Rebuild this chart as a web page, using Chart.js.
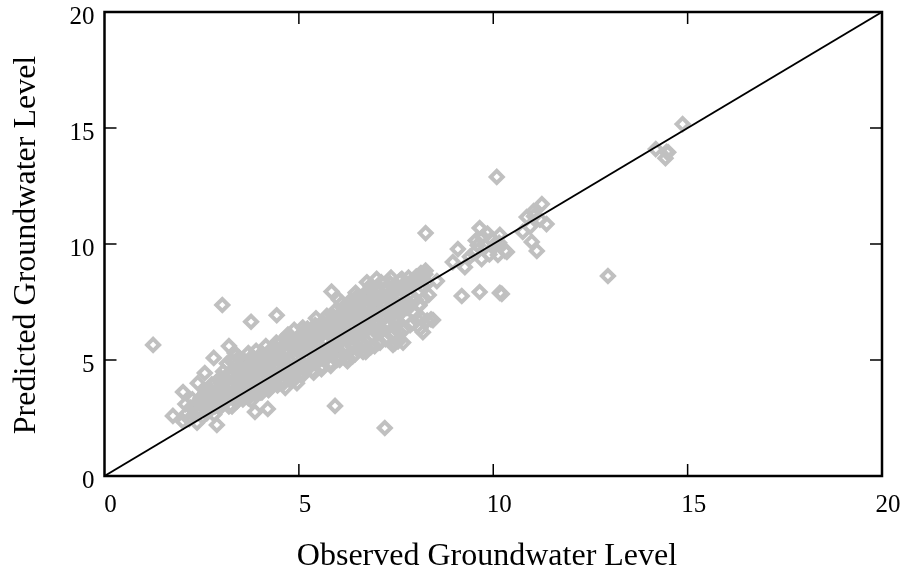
<!DOCTYPE html>
<html>
<head>
<meta charset="utf-8">
<title>Observed vs Predicted Groundwater Level</title>
<script src="https://cdn.jsdelivr.net/npm/chart.js@4"></script>
<style>
  html, body { margin: 0; padding: 0; background: #fff; }
  canvas { display: block; }
</style>
</head>
<body>
<canvas id="scatterChart" width="903" height="569"></canvas>
<script>
// Values, one group per stretch of the cloud
const observed = [
  // isolated points
  1.25, 1.76, 2.02, 3.03, 3.77, 4.43, 7.21, 5.93, 12.95, 10.09, 14.87, 14.18, 14.46, 14.43, 14.5, 8.26,
  9.19, 9.65, 10.17, 10.22, 11.25, 11.04, 10.86, 11.37, 10.99, 11.12, 10.76, 11.05, 10.95, 11.2,
  2.89, 2.81, 3.2, 3.35, 3.87, 4.2, 2.58, 2.4, 7.47, 8.19, 8.45, 8.16, 7.55, 7.42,
  // 2 - 3
  2.02, 2.08, 2.12, 2.18, 2.22, 2.26, 2.31, 2.35, 2.38, 2.44, 2.47, 2.52, 2.55, 2.58, 2.63, 2.66,
  2.7, 2.73, 2.78, 2.82, 2.86, 2.89, 2.93, 2.97, 2.99, 2.91, 2.84, 2.76, 2.68, 2.6, 2.49, 2.37,
  // 3 - 4
  3.02, 3.05, 3.08, 3.12, 3.15, 3.18, 3.21, 3.24, 3.28, 3.3, 3.34, 3.37, 3.4, 3.43, 3.46, 3.5,
  3.53, 3.56, 3.6, 3.63, 3.66, 3.7, 3.73, 3.77, 3.8, 3.83, 3.87, 3.9, 3.93, 3.97, 3.99, 3.04,
  3.14, 3.26, 3.38, 3.48, 3.58, 3.68, 3.78, 3.88, 3.95, 3.45, 3.65, 3.22, 3.85, 3.75, 3.55, 3.1,
  // 4 - 5
  4.01, 4.05, 4.08, 4.11, 4.15, 4.18, 4.22, 4.25, 4.28, 4.32, 4.35, 4.38, 4.42, 4.45, 4.48, 4.52,
  4.55, 4.58, 4.62, 4.65, 4.68, 4.72, 4.75, 4.78, 4.82, 4.85, 4.88, 4.92, 4.95, 4.98, 4.06, 4.16,
  4.26, 4.36, 4.46, 4.56, 4.66, 4.76, 4.86, 4.96, 4.12, 4.3, 4.5, 4.7, 4.9, 4.2, 4.4, 4.6, 4.8,
  // 5 - 6
  5.01, 5.04, 5.08, 5.11, 5.15, 5.18, 5.22, 5.25, 5.28, 5.32, 5.35, 5.38, 5.42, 5.45, 5.48, 5.52,
  5.55, 5.58, 5.62, 5.65, 5.68, 5.72, 5.75, 5.78, 5.82, 5.85, 5.88, 5.92, 5.95, 5.98, 5.06, 5.16,
  5.26, 5.36, 5.46, 5.56, 5.66, 5.76, 5.86, 5.96, 5.1, 5.3, 5.5, 5.7, 5.9, 5.2, 5.4, 5.6, 5.8, 5.93,
  5.03, 5.24, 5.44, 5.64, 5.84,
  // 6 - 7
  6.01, 6.04, 6.08, 6.11, 6.15, 6.18, 6.22, 6.25, 6.28, 6.32, 6.35, 6.38, 6.42, 6.45, 6.48, 6.52,
  6.55, 6.58, 6.62, 6.65, 6.68, 6.72, 6.75, 6.78, 6.82, 6.85, 6.88, 6.92, 6.95, 6.98, 6.06, 6.16,
  6.26, 6.36, 6.46, 6.56, 6.66, 6.76, 6.86, 6.96, 6.1, 6.3, 6.5, 6.7, 6.9, 6.2, 6.4, 6.6, 6.8, 6.94,
  6.03, 6.24, 6.44, 6.64, 6.84,
  // 7 - 8.6
  7.02, 7.05, 7.09, 7.12, 7.16, 7.19, 7.23, 7.26, 7.3, 7.33, 7.37, 7.4, 7.44, 7.47, 7.51, 7.54,
  7.58, 7.61, 7.65, 7.68, 7.72, 7.75, 7.79, 7.82, 7.86, 7.9, 7.94, 7.98, 8.02, 8.06, 8.1, 8.14,
  8.18, 8.22, 8.26, 8.3, 8.34, 8.2, 8.12, 7.08, 7.22, 7.36, 7.5, 7.64, 7.78, 7.92, 7.15, 7.3, 7.45,
  7.6, 7.7, 7.85, 8.04, 6.75, 7.0, 7.1, 7.25, 7.4, 8.1, 8.25, 8.4, 8.55, 8.3,
  // 8.6 - 11
  9.09, 8.96, 9.27, 9.4, 9.55, 9.65, 9.72, 9.8, 9.85, 9.9, 9.95, 10.0, 10.05, 10.12, 10.17, 10.35, 9.6, 9.7, 10.3, 10.15, 9.5,
  // filling the gaps inside the band
  2.4, 2.65, 2.9, 3.1, 3.3, 3.5, 3.7, 3.9, 4.1, 4.3, 4.5, 4.7, 4.9, 5.1, 5.3, 5.5, 5.7, 5.9, 6.1, 6.3, 6.5, 6.7, 6.9, 7.1, 7.3, 7.5, 7.7,
  3.2, 3.4, 3.6, 3.8, 4.0, 4.2, 4.4, 4.6, 4.8, 5.0, 5.2, 5.4, 5.6, 5.8, 6.0, 6.2, 6.4, 6.6, 6.8, 7.0, 7.2, 7.4, 7.6, 7.8, 8.0,
  3.0, 3.25, 3.55, 3.85, 4.15, 4.45, 4.75, 5.05, 5.35, 5.65, 5.95, 6.25, 6.55, 6.85, 7.15, 7.45, 7.75, 8.05,
  2.3, 2.55, 2.8, 3.05, 3.35, 3.6, 3.9, 4.15, 4.4, 4.65, 4.95, 5.2, 5.45, 5.75, 6.0, 6.3, 6.55, 6.8, 7.05, 7.35, 7.6, 7.9, 8.15,
  // lower edge of the band
  4.6, 4.9, 5.1, 5.35, 5.6, 5.8, 6.05, 6.25, 6.45, 6.65, 6.85, 7.05, 7.25, 7.45, 5.0, 5.5, 6.0, 6.5, 7.0, 7.5, 4.3, 4.05, 3.7,
  // upper edge of the band
  5.55, 5.85, 6.15, 6.45, 6.75, 7.05, 7.35, 7.65
];
const predicted = [
  // isolated points
  5.65, 2.59, 3.62, 7.37, 6.65, 6.93, 2.07, 3.02, 8.62, 12.89, 15.17, 14.09, 13.97, 13.7, 13.95, 10.47,
  7.76, 7.93, 7.89, 7.85, 11.72, 11.42, 11.16, 10.86, 10.09, 9.7, 10.52, 11.2, 10.75, 11.05,
  2.2, 5.09, 5.6, 5.3, 2.76, 2.89, 4.44, 4.0, 5.73, 6.2, 6.72, 6.8, 5.8, 5.65,
  // 2 - 3
  2.35, 3.1, 2.7, 2.45, 2.95, 3.3, 2.6, 3.05, 2.3, 2.85, 3.35, 2.55, 3.1, 3.5, 2.7, 3.3,
  3.75, 2.9, 3.45, 2.65, 4.0, 3.2, 3.7, 2.95, 4.25, 3.45, 3.0, 3.95, 2.8, 3.6, 3.4, 2.75,
  // 3 - 4
  3.05, 4.5, 3.7, 3.2, 4.85, 3.95, 3.4, 4.45, 3.0, 4.9, 3.65, 5.2, 4.2, 3.45, 5.1, 3.85,
  4.6, 3.3, 4.95, 4.1, 3.6, 5.3, 4.4, 3.75, 5.15, 4.7, 3.55, 5.4, 4.25, 3.9, 5.0, 3.95,
  3.5, 3.95, 4.1, 4.7, 4.25, 4.75, 3.25, 4.5, 3.8, 4.4, 4.9, 4.3, 5.05, 4.0, 3.6, 4.25,
  // 4 - 5
  3.6, 5.3, 4.5, 3.95, 5.6, 4.85, 3.7, 5.2, 4.3, 5.5, 4.0, 4.75, 5.75, 3.9, 5.1, 4.5,
  5.8, 4.15, 5.35, 3.8, 4.7, 6.1, 5.0, 4.2, 5.65, 4.45, 6.3, 5.2, 4.0, 5.9, 4.2, 4.95,
  5.4, 5.0, 4.3, 4.9, 5.45, 4.7, 5.05, 4.65, 3.95, 4.55, 5.25, 5.95, 5.55, 4.65, 5.05, 5.6, 6.0,
  // 5 - 6
  4.4, 5.7, 4.9, 6.2, 5.15, 4.55, 6.35, 5.5, 4.75, 6.0, 5.25, 4.45, 6.5, 5.7, 4.95, 6.25,
  5.4, 4.6, 6.6, 5.85, 5.05, 6.9, 6.15, 5.35, 4.75, 6.75, 5.55, 7.1, 6.4, 5.0, 5.35, 6.05,
  4.8, 5.6, 6.1, 5.05, 5.85, 6.55, 5.2, 6.0, 6.4, 5.95, 5.25, 6.35, 5.7, 5.85, 5.45, 6.1, 6.5, 5.55,
  6.05, 5.55, 6.8, 5.45, 7.95,
  // 6 - 7
  5.2, 6.9, 6.1, 7.45, 5.5, 6.55, 7.2, 4.95, 5.9, 7.55, 6.35, 5.15, 7.0, 6.0, 7.7, 5.45,
  6.6, 7.4, 5.7, 6.15, 7.75, 5.35, 6.85, 7.3, 5.95, 8.0, 6.4, 7.55, 5.6, 6.95, 6.5, 7.15,
  6.65, 5.75, 7.9, 6.8, 6.25, 5.5, 7.1, 7.65, 5.85, 7.05, 6.2, 7.35, 6.05, 6.6, 5.55, 6.9, 7.85, 6.3,
  7.6, 6.2, 7.05, 6.7, 8.2,
  // 7 - 8.6
  6.15, 7.9, 5.75, 8.35, 6.9, 7.45, 5.9, 8.1, 6.5, 7.6, 8.55, 6.05, 7.2, 8.25, 6.7, 7.8,
  6.2, 8.45, 7.35, 5.75, 8.0, 6.85, 7.5, 8.55, 6.5, 7.7, 8.3, 7.0, 8.6, 7.9, 7.4, 8.75,
  8.2, 7.65, 8.85, 8.3, 7.8, 8.5, 6.35, 7.05, 6.55, 7.7, 6.85, 8.15, 7.25, 6.6, 6.75, 7.1, 7.55,
  7.0, 6.3, 7.35, 6.75, 8.35, 8.5, 6.4, 7.15, 6.95, 7.35, 8.7, 6.75, 8.4, 6.7,
  // 8.6 - 11
  9.78, 9.22, 9.0, 9.45, 10.15, 10.69, 10.3, 9.9, 10.45, 9.55, 10.2, 9.85, 10.0, 9.53, 10.39, 9.66, 9.95, 9.35, 9.7, 10.05, 9.6,
  // filling the gaps inside the band
  2.8, 3.2, 3.4, 3.6, 3.85, 4.1, 4.3, 4.5, 4.7, 4.9, 5.1, 5.3, 5.5, 5.7, 5.9, 6.1, 6.3, 6.5, 6.7, 6.9, 7.1, 7.3, 7.5, 7.65, 7.8, 8.0, 8.2,
  3.0, 3.2, 3.4, 3.6, 3.8, 4.0, 4.2, 4.4, 4.6, 4.8, 5.0, 5.2, 5.4, 5.55, 5.7, 5.9, 6.1, 6.3, 6.5, 6.7, 6.85, 7.0, 7.2, 7.4, 7.6,
  4.0, 4.3, 4.55, 4.85, 5.15, 5.4, 5.7, 5.95, 6.2, 6.5, 6.75, 7.0, 7.25, 7.55, 7.75, 8.05, 8.25, 8.45,
  3.0, 3.35, 3.55, 3.8, 4.15, 4.35, 4.6, 4.9, 5.15, 5.35, 5.6, 5.85, 6.1, 6.35, 6.6, 6.85, 7.1, 7.35, 7.6, 7.9, 8.1, 8.3, 8.5,
  // lower edge of the band
  4.0, 4.2, 4.35, 4.55, 4.75, 4.85, 5.0, 5.1, 5.25, 5.35, 5.55, 5.75, 5.95, 6.15, 4.6, 5.0, 5.45, 5.8, 6.25, 6.6, 3.85, 3.6, 3.35,
  // upper edge of the band
  6.55, 6.95, 7.25, 7.55, 7.95, 8.15, 8.3, 8.5
];
const lineX = [0, 20];
const lineY = [0, 20];
const tickValues = [0, 5, 10, 15, 20];
const xTitle = 'Observed Groundwater Level';
const yTitle = 'Predicted Groundwater Level';

const plotLeft = 104.5, plotRight = 882, plotTop = 12, plotBottom = 476;
const fontFamily = '"Liberation Serif", "Times New Roman", serif';

// inward ticks on all four sides, the frame, and the two axis titles
const frameTicks = {
  id: 'frameTicks',
  afterDatasetsDraw(chart) {
    const { ctx, chartArea: a, scales: { x, y } } = chart;
    ctx.save();
    ctx.strokeStyle = '#000';
    ctx.lineWidth = 2.5;
    ctx.strokeRect(a.left, a.top, a.right - a.left, a.bottom - a.top);
    ctx.lineWidth = 1.5;
    ctx.beginPath();
    tickValues.slice(1, -1).forEach(v => {
      const px = x.getPixelForValue(v), py = y.getPixelForValue(v);
      ctx.moveTo(px, a.bottom); ctx.lineTo(px, a.bottom - 12);
      ctx.moveTo(px, a.top); ctx.lineTo(px, a.top + 12);
      ctx.moveTo(a.left, py); ctx.lineTo(a.left + 12, py);
      ctx.moveTo(a.right, py); ctx.lineTo(a.right - 12, py);
    });
    ctx.moveTo(a.left, a.top); ctx.lineTo(a.left + 12, a.top);
    ctx.stroke();

    ctx.fillStyle = '#000';
    ctx.font = '32px ' + fontFamily;
    ctx.textAlign = 'center';
    ctx.textBaseline = 'alphabetic';
    ctx.fillText(xTitle, 487, 565);
    ctx.translate(35, 245);
    ctx.rotate(-Math.PI / 2);
    ctx.fillText(yTitle, 0, 0);
    ctx.restore();
  }
};

new Chart(document.getElementById('scatterChart'), {
  type: 'scatter',
  data: {
    datasets: [
      {
        label: 'Observed = Predicted',
        data: lineX.map((v, i) => ({ x: v, y: lineY[i] })),
        showLine: true,
        borderColor: '#000',
        borderWidth: 2,
        pointRadius: 0,
        clip: false
      },
      {
        label: 'Groundwater Level',
        data: observed.map((v, i) => ({ x: v, y: predicted[i] })),
        pointStyle: 'rectRot',
        pointRadius: 6,
        pointBorderWidth: 4,
        pointBorderColor: '#c0c0c0',
        pointBackgroundColor: 'rgba(255,255,255,0)'
      }
    ]
  },
  options: {
    responsive: false,
    animation: false,
    events: [],
    layout: { padding: { left: 0, top: plotTop, right: 903 - plotRight, bottom: 0 } },
    plugins: { legend: { display: false }, tooltip: { enabled: false } },
    scales: {
      x: {
        type: 'linear',
        min: 0,
        max: 20,
        afterFit: s => { s.height = 569 - plotBottom; s.paddingLeft = 0; s.paddingRight = 0; },
        afterBuildTicks: s => { s.ticks = tickValues.map(v => ({ value: v })); },
        grid: { display: false },
        border: { display: false },
        ticks: {
          color: '#000',
          font: { family: fontFamily, size: 25 },
          labelOffset: 6,
          maxRotation: 0,
          padding: 6
        }
      },
      y: {
        type: 'linear',
        min: 0,
        max: 20,
        afterFit: s => { s.width = plotLeft; s.paddingTop = 0; s.paddingBottom = 0; },
        afterBuildTicks: s => { s.ticks = tickValues.map(v => ({ value: v })); },
        grid: { display: false },
        border: { display: false },
        ticks: {
          color: '#000',
          font: { family: fontFamily, size: 25 },
          labelOffset: 5,
          padding: 2
        }
      }
    }
  },
  plugins: [frameTicks]
});
</script>
</body>
</html>
